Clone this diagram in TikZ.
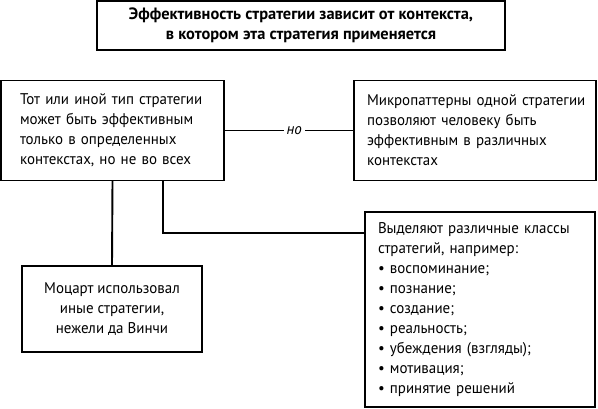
\documentclass[tikz,border=0pt]{standalone}
\usepackage{fontspec}
\setmainfont[FakeStretch=0.965]{PT Sans}
\newfontfamily\titlefont{PT Sans}
\begin{document}
\begin{tikzpicture}[x=1pt,y=1pt,
  box/.style={draw, line width=1.3pt, rectangle, inner xsep=0pt, inner ysep=0pt, outer sep=0pt},
  txt/.style={font=\fontsize{15.5}{20}\selectfont},
  bold/.style={font=\titlefont\fontsize{16.4}{20}\selectfont\bfseries},
  ital/.style={font=\fontsize{15.5}{20}\selectfont\itshape},
  link/.style={line width=1.9pt}]
\useasboundingbox (0,0) rectangle (598,-408);
\node[box, bold, minimum width=408, minimum height=49, align=center] (title) at (301,-25.5)
  {Эффективность стратегии зависит от контекста,\\в котором эта стратегия применяется};
\node[box, txt, minimum width=223, minimum height=100, text width=185, align=left] (type) at (112.5,-130.5)
  {\mbox{Тот или иной тип стратегии}\\\mbox{может быть эффективным}\\\mbox{только в определенных}\\\mbox{контекстах, но не во всех}};
\node[box, txt, minimum width=242, minimum height=100, text width=216, align=left] (micro) at (475,-130.5)
  {\mbox{Микропаттерны одной стратегии}\\\mbox{позволяют человеку быть}\\\mbox{эффективным в различных}\\\mbox{контекстах}};
\node[box, txt, minimum width=180, minimum height=86, align=center] (mozart) at (112,-309)
  {Моцарт использовал\\иные стратегии,\\нежели да Винчи};
\node[box, txt, minimum width=230, minimum height=195, text width=204, align=left] (classes) at (480,-309.5)
  {\mbox{Выделяют различные классы}\\\mbox{стратегий, например:}\\\mbox{• воспоминание;}\\\mbox{• познание;}\\\mbox{• создание;}\\\mbox{• реальность;}\\\mbox{• убеждения (взгляды);}\\\mbox{• мотивация;}\\\mbox{• принятие решений}};
\coordinate (j) at (163,-233);
\draw[link] (type.east) -- node[fill=white, inner sep=3pt, ital, pos=0.54] (no) {но} (micro.west);
\draw[link] (type.south) -- (mozart.north);
\draw[link] (type.south -| j) -- (j) -- (j -| classes.west);
\end{tikzpicture}
\end{document}
